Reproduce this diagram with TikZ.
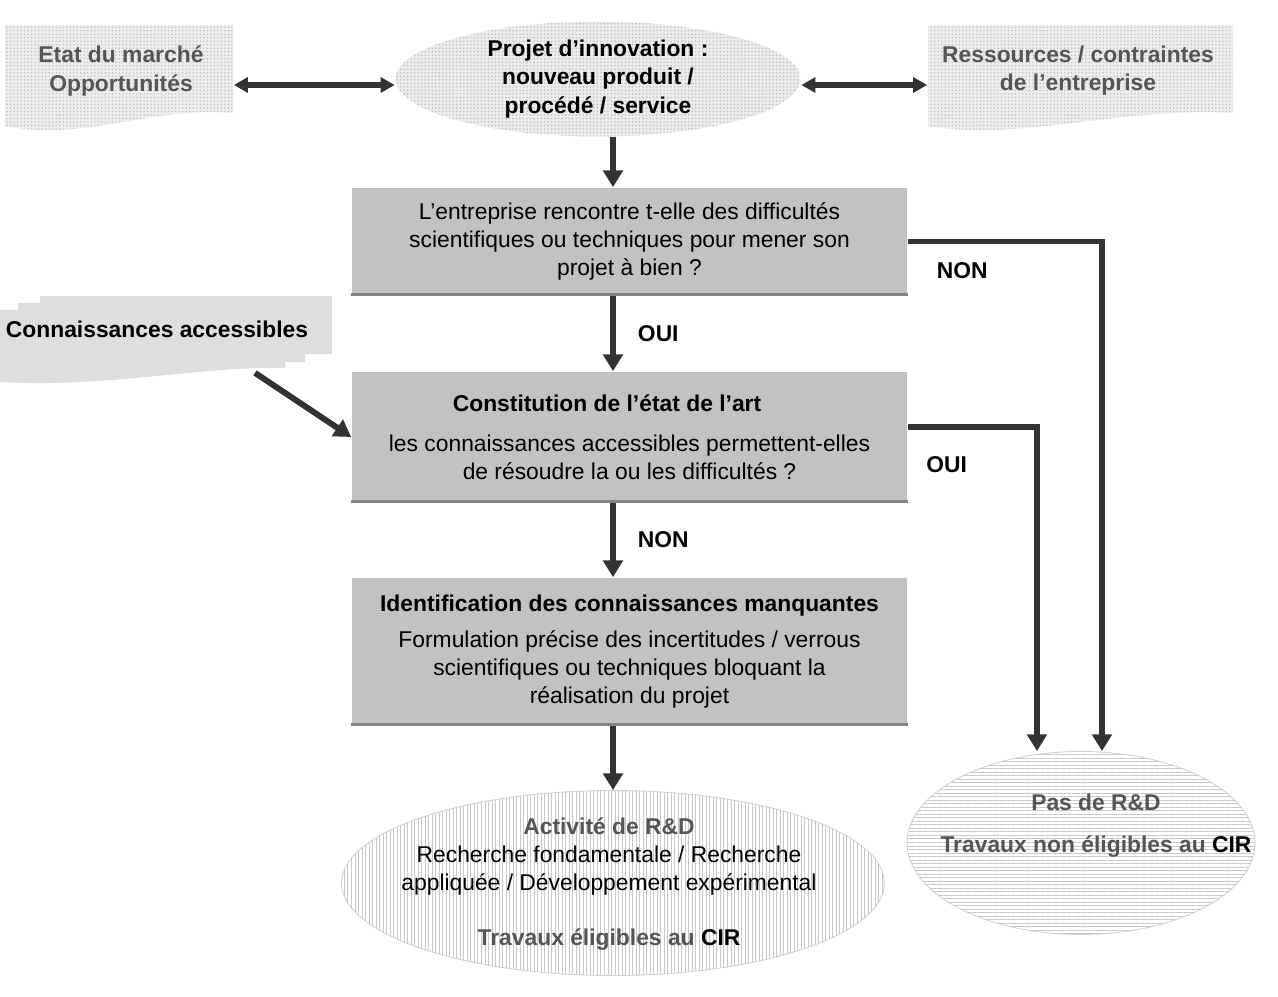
\documentclass[tikz,border=0pt]{standalone}
\usepackage{fontspec}
\setmainfont{Liberation Sans}
\usepackage{tikz}
\usetikzlibrary{arrows.meta}
\usetikzlibrary{shapes.geometric}
\usetikzlibrary{patterns.meta}
\usetikzlibrary{positioning}

\definecolor{arrowgray}{HTML}{333333}
\definecolor{boxgray}{HTML}{C2C2C2}
\definecolor{edgegray}{HTML}{858585}
\definecolor{textgray}{HTML}{555555}
\definecolor{docgray}{HTML}{EDEDED}
\definecolor{dotgray}{HTML}{BDBDBD}
\definecolor{stackgray}{HTML}{DEDEDE}
\definecolor{stripegray}{HTML}{C8C8C8}

\tikzset{
  flowarrow/.style={draw=arrowgray, line width=3.4pt, -{Triangle[length=9.5pt, width=11pt]}},
  twoarrow/.style={draw=arrowgray, line width=3.4pt, {Triangle[length=8pt, width=8.5pt]}-{Triangle[length=8pt, width=8.5pt]}},
  docfill/.style={fill=docgray, postaction={pattern={Dots[distance=2pt, radius=0.45pt]}, pattern color=dotgray}},
  stackfill/.style={fill=stackgray},
  doctext/.style={align=center, inner sep=0pt, font=\bfseries, text=textgray},
  question/.style={rectangle, fill=boxgray, minimum width=11.1cm, align=center, inner sep=0pt},
  boxedge/.style={draw=edgegray, line width=1.7pt},
  answer/.style={inner sep=0pt, font=\bfseries},
  projetshape/.style={ellipse, fill=gray!15, postaction={pattern={Dots[distance=2pt, radius=0.5pt]}, pattern color=gray!50}, inner sep=0pt, align=center, font=\bfseries},
  vstripes/.style={ellipse, fill=white, postaction={pattern={Lines[angle=90, distance=2pt, line width=0.45pt]}, pattern color=stripegray}, draw=gray!35, line width=0.5pt},
  hstripes/.style={ellipse, fill=white, postaction={pattern={Lines[angle=0, distance=2pt, line width=0.45pt]}, pattern color=stripegray}, draw=gray!35, line width=0.5pt},
  outcome/.style={align=center, inner sep=0pt},
}

\begin{document}
\fontsize{13pt}{16pt}\selectfont
\begin{tikzpicture}[x=0.02cm, y=-0.02cm, line width=1pt]

  \useasboundingbox (0,0) rectangle (1278,997);

  \begin{scope}[xshift=0.0cm, yshift=0.0cm]

  % paper shapes behind the texts
  \fill[docfill] (5,25) -- (233,25) -- (233,113) .. controls (150,106) and (85,142) .. (5,126) -- cycle;
  \fill[docfill] (928,25) -- (1233,25) -- (1233,113) .. controls (1130,106) and (1015,142) .. (928,126) -- cycle;
  \fill[stackfill] (40,296) rectangle (332,354);
  \fill[stackfill] (18,303) rectangle (305,362);
  \fill[stackfill] (0,310) -- (285,310) -- (285,368) .. controls (200,366) and (110,388) .. (0,382) -- cycle;

  \coordinate (spine) at (613,0);

  \draw (121,71) node[doctext, minimum width=4.48cm, minimum height=1.76cm, name=etat] {Etat du marché\\Opportunités};
  \draw (598,79) node[projetshape, minimum width=8.1cm, minimum height=2.3cm, name=projet] {Projet d’innovation :\\nouveau produit /\\procédé / service};
  \draw (1078,71) node[doctext, minimum width=6.0cm, minimum height=1.76cm, name=ress] {Ressources / contraintes\\de l’entreprise};
  \draw (157,329) node[answer, minimum height=1.72cm, name=conn] {Connaissances accessibles};

  \draw (629.5,241.5) node[question, minimum height=2.14cm, name=box1] {L’entreprise rencontre t-elle des difficultés\\scientifiques ou techniques pour mener son\\projet à bien ?};
  \draw (629.5,437) node[question, minimum height=2.6cm, name=box2] {\textbf{Constitution de l’état de l’art}\hspace*{0.9cm}\\[7pt]les connaissances accessibles permettent-elles\\de résoudre la ou les difficultés ?};
  \draw (629.5,651.5) node[question, minimum height=2.94cm, name=box3] {\textbf{Identification des connaissances manquantes}\\[4.5pt]Formulation précise des incertitudes / verrous\\scientifiques ou techniques bloquant la\\réalisation du projet};

  \draw[boxedge] ([yshift=0.85pt]box1.south west) -- ([yshift=0.85pt]box1.south east);
  \draw[boxedge] ([yshift=0.85pt]box2.south west) -- ([yshift=0.85pt]box2.south east);
  \draw[boxedge] ([yshift=0.85pt]box3.south west) -- ([yshift=0.85pt]box3.south east);

  \draw (613,883) node[vstripes, minimum width=10.86cm, minimum height=3.7cm, name=actrd] {};
  \draw (609,884) node[outcome, name=acttxt] {\textcolor{textgray}{\textbf{Activité de R\&D}}\\Recherche fondamentale / Recherche\\appliquée / Développement expérimental\\[15pt]\textcolor{textgray}{\textbf{Travaux éligibles au \textcolor{black}{CIR}}}};
  \draw (1081,843) node[hstripes, minimum width=6.96cm, minimum height=3.66cm, name=pasrd] {};
  \draw (1096,826) node[outcome, name=pastxt] {\textcolor{textgray}{\textbf{Pas de R\&D}}\\[8pt]\textcolor{textgray}{\textbf{Travaux non éligibles au \textcolor{black}{CIR}}}};

  \draw[twoarrow] ([yshift=-0.12cm]projet.west -| etat.east) -- ([yshift=-0.12cm]projet.west);
  \draw[twoarrow] ([yshift=-0.12cm]projet.east) -- ([yshift=-0.12cm]projet.east -| ress.west);

  \draw[flowarrow] (projet.south -| spine) -- (box1.north -| spine);
  \draw[flowarrow] (box1.south -| spine) -- node[answer, right=0.44cm, name=oui1] {OUI} (box2.north -| spine);
  \draw[flowarrow] (box2.south -| spine) -- node[answer, right=0.44cm, name=non1] {NON} (box3.north -| spine);
  \draw[flowarrow] (box3.south -| spine) -- (actrd.north);

  \draw[flowarrow] (box1.east) -| node[answer, pos=0.14, below=0.36cm, name=non2] {NON} ([xshift=0.42cm]pasrd.north);
  \draw[flowarrow] ([yshift=0.2cm]box2.east) -| node[answer, pos=0.15, below=0.54cm, name=oui2] {OUI} ([xshift=-0.88cm]pasrd.north);
  \draw[flowarrow] ([xshift=1.96cm]conn.south) -- (box2.west);

  \end{scope}

\end{tikzpicture}
\end{document}
